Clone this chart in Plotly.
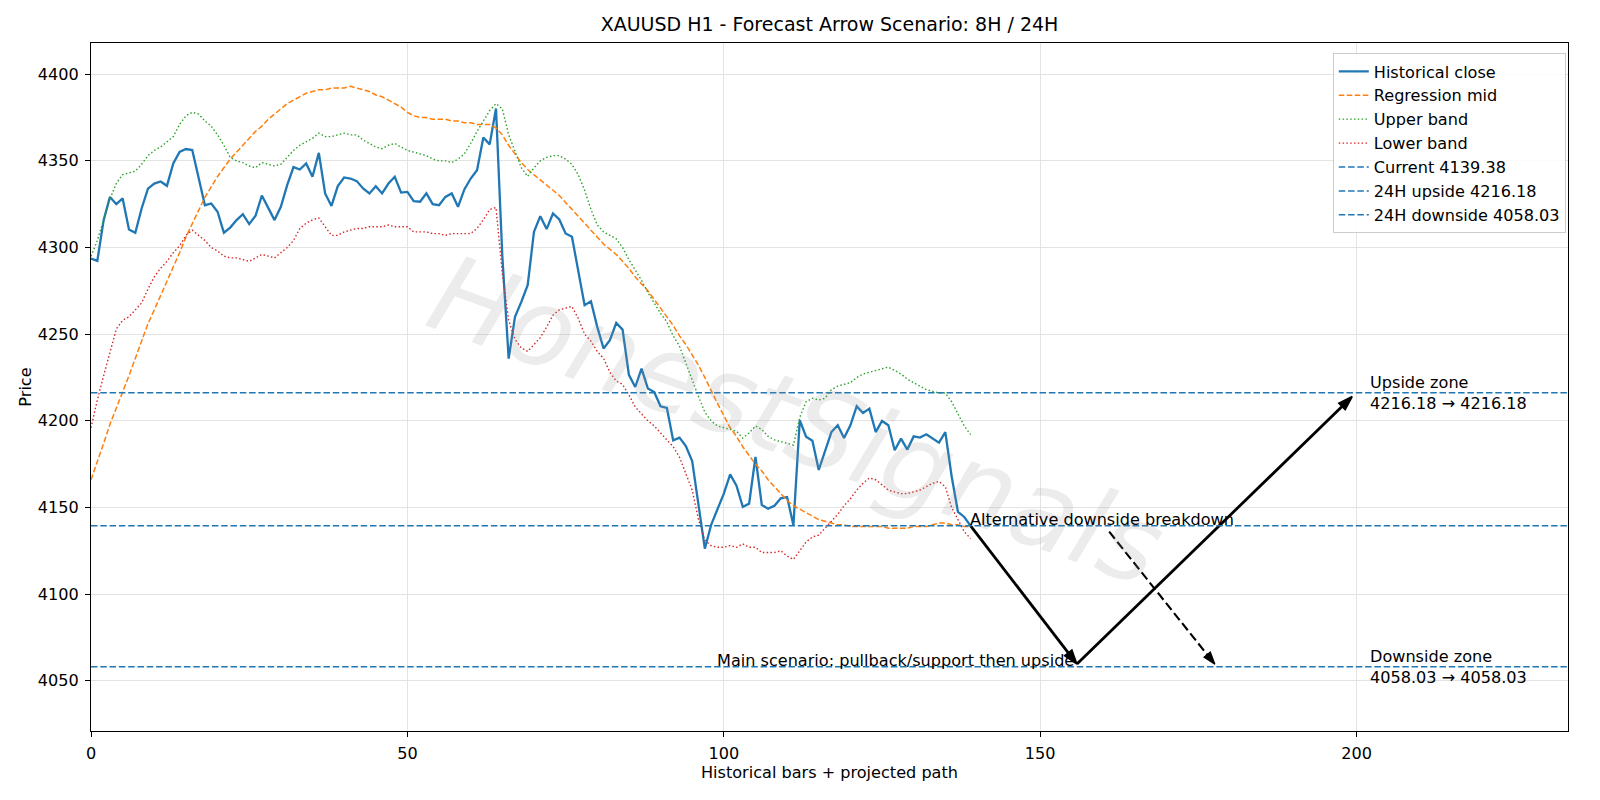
import plotly.graph_objects as go

# ---------------- data ----------------
hist_close = [
    4293.6, 4292.3, 4315.8, 4329.2, 4325.0, 4328.3, 4310.4, 4308.5, 4322.5, 4334.0,
    4336.9, 4338.1, 4335.6, 4348.5, 4355.2, 4356.8, 4356.2, 4340.8, 4324.4, 4325.4,
    4320.6, 4308.5, 4311.5, 4315.8, 4319.2, 4313.5, 4318.3, 4330.0, 4323.1, 4315.8,
    4323.5, 4336.0, 4346.4, 4345.0, 4348.5, 4340.8, 4354.6, 4331.2, 4324.0, 4335.4,
    4340.4, 4339.8, 4338.3, 4334.1, 4331.2, 4335.4, 4331.2, 4336.9, 4340.8, 4331.7,
    4332.1, 4326.7, 4326.4, 4331.2, 4325.0, 4324.4, 4329.2, 4331.2, 4323.5, 4333.5,
    4339.8, 4344.6, 4363.5, 4359.5, 4380.2, 4295.0, 4235.9, 4260.0, 4268.6, 4278.2,
    4309.0, 4318.1, 4310.6, 4319.6, 4316.2, 4308.1, 4306.2, 4286.9, 4266.7, 4269.0,
    4254.2, 4241.7, 4246.5, 4256.5, 4252.6, 4226.5, 4219.5, 4230.1, 4218.6, 4216.6,
    4208.4, 4207.4, 4188.7, 4190.3, 4185.4, 4176.7, 4150.0, 4126.2, 4140.0, 4149.0,
    4158.0, 4169.1, 4162.5, 4150.3, 4152.2, 4179.1, 4151.4, 4149.3, 4151.0, 4155.3,
    4156.0, 4139.7, 4200.3, 4190.8, 4188.5, 4171.6, 4183.0, 4193.5, 4197.4, 4190.1,
    4197.4, 4208.4, 4204.5, 4207.0, 4193.5, 4199.9, 4197.4, 4183.0, 4189.7, 4183.4,
    4191.0, 4190.3, 4192.2, 4189.7, 4187.4, 4193.5, 4168.0, 4147.4, 4144.5, 4139.38,
]

reg_mid = [
    4166, 4176, 4187, 4198, 4207, 4216, 4226, 4236, 4246, 4256,
    4264, 4272, 4280, 4289, 4297, 4306, 4314, 4322, 4329, 4335,
    4341, 4346, 4351, 4355, 4359, 4363, 4367, 4370, 4374, 4377,
    4380, 4383, 4385, 4387, 4389, 4390, 4391, 4391, 4392, 4392,
    4392, 4393, 4392, 4391, 4390, 4388, 4387, 4385, 4383, 4381,
    4378, 4376, 4375, 4375, 4374, 4374, 4374, 4373, 4373, 4372,
    4372, 4371, 4371, 4371, 4369, 4365, 4359, 4354, 4349, 4345,
    4342, 4339, 4336, 4333, 4330, 4326, 4322, 4318, 4314, 4310,
    4306, 4302, 4299, 4296, 4292, 4288, 4283, 4279, 4275, 4270,
    4265, 4260, 4255, 4249, 4244, 4238, 4232, 4225, 4217, 4210,
    4203, 4196, 4191, 4185, 4180, 4175, 4171, 4166, 4162, 4158,
    4154, 4151, 4149, 4147, 4145, 4143, 4142, 4141, 4140, 4140,
    4139, 4139, 4139, 4139, 4139, 4139, 4138, 4138, 4138, 4138,
    4139, 4139, 4139, 4140, 4141, 4141, 4140, 4140, 4139, 4139,
]

upper_band = [
    4295, 4304, 4316, 4328, 4337, 4342, 4343, 4344, 4348, 4353,
    4356, 4358, 4361, 4364, 4371, 4376, 4378, 4377, 4373, 4370,
    4365, 4359, 4352, 4350, 4349, 4347, 4346, 4349, 4348, 4347,
    4348, 4352, 4356, 4359, 4361, 4363, 4366, 4364, 4364, 4365,
    4366, 4365, 4365, 4362, 4360, 4358, 4357, 4359, 4360, 4358,
    4356, 4355, 4354, 4353, 4351, 4350, 4350, 4349, 4351, 4354,
    4360, 4367, 4373, 4379, 4383, 4380, 4365, 4356, 4346, 4341,
    4346, 4350, 4352, 4353, 4353, 4351, 4348, 4342, 4333, 4322,
    4313, 4309, 4307, 4305, 4300, 4293, 4287, 4281, 4274, 4268,
    4262, 4257, 4249, 4243, 4233, 4224, 4214, 4205, 4200, 4197,
    4196, 4195, 4194, 4190, 4193, 4197, 4195, 4191, 4189, 4188,
    4187, 4186, 4202, 4211, 4213, 4212, 4213, 4218, 4220, 4221,
    4222, 4225, 4227, 4228, 4229, 4230, 4231, 4229, 4227, 4224,
    4222, 4220, 4218, 4217, 4216, 4216, 4211, 4204, 4197, 4192,
]

lower_band = [
    4196, 4212, 4226, 4240, 4253, 4258, 4260, 4264, 4268, 4276,
    4283, 4288, 4292, 4297, 4301, 4307, 4310, 4307, 4304, 4300,
    4298, 4295, 4294, 4294, 4293, 4292, 4294, 4296, 4295, 4294,
    4297, 4300, 4304, 4311, 4314, 4316, 4317, 4312, 4307, 4307,
    4309, 4310, 4311, 4311, 4312, 4312, 4312, 4313, 4312, 4312,
    4312, 4309, 4309, 4309, 4308, 4308, 4307, 4308, 4308, 4308,
    4308, 4311, 4316, 4322, 4323, 4285, 4258, 4247, 4242, 4240,
    4244, 4248, 4254, 4261, 4264, 4265, 4266, 4259, 4250, 4246,
    4240, 4236, 4228, 4223, 4221, 4215, 4208, 4204, 4200, 4197,
    4193, 4189, 4185, 4179, 4170, 4160, 4143, 4131, 4128, 4127,
    4127, 4128, 4127, 4129, 4127, 4127, 4124, 4124, 4124, 4125,
    4122, 4120, 4125, 4130, 4133, 4134, 4138, 4142, 4146, 4151,
    4155, 4160, 4164, 4167, 4166, 4163, 4160, 4159, 4158, 4158,
    4159, 4160, 4162, 4164, 4165, 4162, 4150, 4143, 4136, 4132,
]

bars = list(range(len(hist_close)))

current_price = 4139.38
upside_24h = 4216.18
downside_24h = 4058.03

# projected scenario paths
main_path_x = [139, 155.8, 199.3]
main_path_y = [4139.38, 4059.6, 4214.0]
alt_path_x = [160.9, 177.6]
alt_path_y = [4136.0, 4059.5]

main_label = "Main scenario: pullback/support then upside"
main_label_x = 155.6
alt_label = "Alternative downside breakdown"
alt_label_x = 138.6
zone_label_x = 201.8

title_text = "XAUUSD H1 - Forecast Arrow Scenario: 8H / 24H"
x_title = "Historical bars + projected path"
y_title = "Price"
x_ticks = [0, 50, 100, 150, 200]
y_ticks = [4050, 4100, 4150, 4200, 4250, 4300, 4350, 4400]
x_range = [0, 233.4]
y_range = [4021.0, 4418.0]

watermark = "HonestSignals"

# ---------------- styling ----------------
FONT = "DejaVu Sans"
FS = 16.1
BLUE = "#1f77b4"
ORANGE = "#ff7f0e"
GREEN = "#2ca02c"
RED = "#d62728"

fig = go.Figure()

fig.add_trace(go.Scatter(x=bars, y=hist_close, mode="lines", name="Historical close",
                         line=dict(color=BLUE, width=2.3), legendrank=1))
fig.add_trace(go.Scatter(x=bars, y=reg_mid, mode="lines", name="Regression mid",
                         line=dict(color=ORANGE, width=1.5, dash="5.5px,2.5px"), legendrank=2))
fig.add_trace(go.Scatter(x=bars, y=upper_band, mode="lines", name="Upper band",
                         line=dict(color=GREEN, width=1.4, dash="1.5px,2.3px"), legendrank=3))
fig.add_trace(go.Scatter(x=bars, y=lower_band, mode="lines", name="Lower band",
                         line=dict(color=RED, width=1.4, dash="1.5px,2.3px"), legendrank=4))

# horizontal reference lines (span the axes)
hlines = [
    (current_price, f"Current {current_price:.2f}", 5),
    (upside_24h, f"24H upside {upside_24h:.2f}", 6),
    (downside_24h, f"24H downside {downside_24h:.2f}", 7),
]
for val, nm, rk in hlines:
    fig.add_shape(type="line", xref="paper", x0=0, x1=1, yref="y", y0=val, y1=val,
                  line=dict(color=BLUE, width=1.5, dash="6.5px,2.8px"),
                  showlegend=True, name=nm, legendrank=rk, layer="above")

# scenario arrows
fig.add_trace(go.Scatter(x=main_path_x, y=main_path_y, mode="lines+markers",
                         line=dict(color="black", width=2.8),
                         marker=dict(symbol="arrow", size=[0, 15, 15], angleref="previous",
                                     color="black", opacity=1,
                                     line=dict(width=1.5, color="black")),
                         showlegend=False, hoverinfo="skip"))
fig.add_trace(go.Scatter(x=alt_path_x, y=alt_path_y, mode="lines+markers",
                         line=dict(color="black", width=2.1, dash="9px,4px"),
                         marker=dict(symbol="arrow", size=[0, 13], angleref="previous",
                                     color="black", opacity=1,
                                     line=dict(width=1.2, color="black")),
                         showlegend=False, hoverinfo="skip"))

annotations = [
    dict(x=111.5, y=4200.0, text=watermark, showarrow=False, textangle=20,
         xanchor="center", yanchor="middle",
         font=dict(family=FONT, size=108, color="rgba(150,150,150,0.18)", style="italic")),
    dict(x=main_label_x, y=downside_24h, text=main_label, showarrow=False,
         xanchor="right", yanchor="bottom", yshift=-5,
         font=dict(family=FONT, size=FS, color="black")),
    dict(x=alt_label_x, y=current_price, text=alt_label, showarrow=False,
         xanchor="left", yanchor="bottom", yshift=-5,
         font=dict(family=FONT, size=FS, color="black")),
    dict(x=zone_label_x, y=upside_24h, text=f"Upside zone<br>{upside_24h:.2f} → {upside_24h:.2f}",
         showarrow=False, xanchor="left", yanchor="middle", align="left",
         font=dict(family=FONT, size=FS, color="black")),
    dict(x=zone_label_x, y=downside_24h, text=f"Downside zone<br>{downside_24h:.2f} → {downside_24h:.2f}",
         showarrow=False, xanchor="left", yanchor="middle", align="left",
         font=dict(family=FONT, size=FS, color="black")),
]

fig.update_layout(
    width=1600, height=800,
    margin=dict(l=91, r=32, t=43, b=69),
    paper_bgcolor="white", plot_bgcolor="white",
    font=dict(family=FONT, size=FS, color="black"),
    title=dict(text=title_text, x=0.5, xref="paper", xanchor="center",
               y=1 - 24.5 / 800, yref="container", yanchor="middle",
               font=dict(family=FONT, size=19, color="black")),
    legend=dict(x=0.9985, y=0.985, xanchor="right", yanchor="top",
                bgcolor="rgba(255,255,255,0.85)", bordercolor="#cccccc", borderwidth=1,
                font=dict(family=FONT, size=FS), traceorder="normal", itemwidth=30),
    annotations=annotations,
    showlegend=True,
)

fig.update_xaxes(range=x_range, tickvals=x_ticks, showline=True, mirror=True,
                 linecolor="black", linewidth=1.1, ticks="outside", ticklen=5,
                 tickcolor="black", tickwidth=1.1, showgrid=True, gridcolor="#e3e3e3",
                 gridwidth=1, zeroline=False, ticklabelstandoff=3,
                 tickfont=dict(family=FONT, size=FS),
                 title=dict(text=x_title, font=dict(family=FONT, size=FS), standoff=4))
fig.update_yaxes(range=y_range, tickvals=y_ticks, showline=True, mirror=True,
                 linecolor="black", linewidth=1.1, ticks="outside", ticklen=5,
                 tickcolor="black", tickwidth=1.1, showgrid=True, gridcolor="#e3e3e3",
                 gridwidth=1, zeroline=False, ticklabelstandoff=3,
                 tickfont=dict(family=FONT, size=FS),
                 title=dict(text=y_title, font=dict(family=FONT, size=FS), standoff=2))

fig.write_html("out.html")
